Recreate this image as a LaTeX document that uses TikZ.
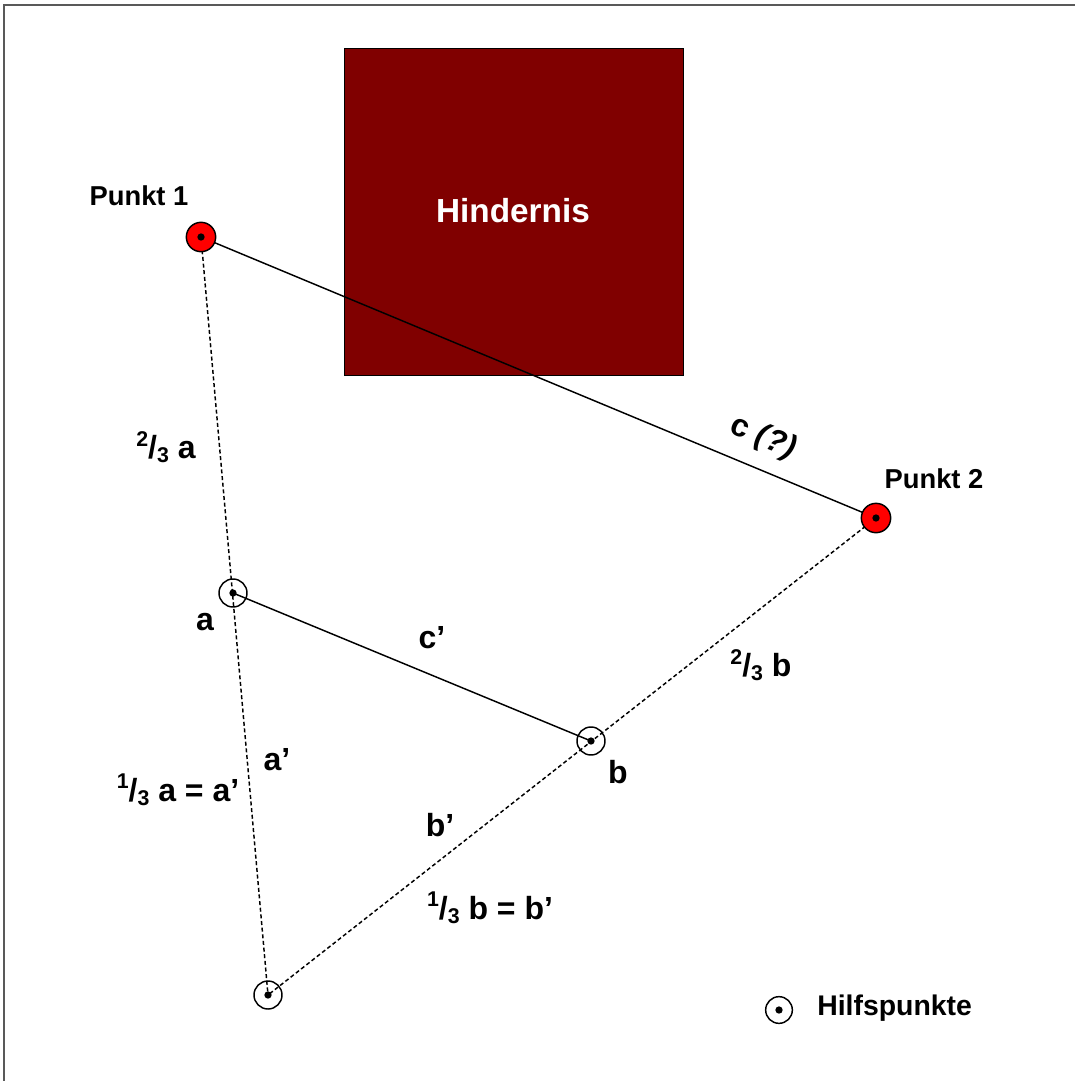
\documentclass[tikz,border=0pt]{standalone}
\usepackage{fontspec}
\setmainfont{Liberation Sans}
\newcommand{\frc}[2]{\raisebox{0.40em}{\fontsize{16}{16}\selectfont #1}/\raisebox{-0.12em}{\fontsize{16}{16}\selectfont #2}}
\begin{document}
\begin{tikzpicture}[x=0.75pt,y=-0.75pt,
  lbl/.style={font=\fontsize{20.5}{24}\selectfont\bfseries, inner sep=0pt},
  biglbl/.style={font=\fontsize{24}{28}\selectfont\bfseries, inner sep=0pt},
  redpt/.style={circle, draw=black, line width=1.1pt, fill=red, minimum size=22pt, inner sep=0pt},
  auxpt/.style={circle, draw=black, line width=1.1pt, minimum size=21pt, inner sep=0pt},
  dotc/.style={circle, fill=black, minimum size=5.5pt, inner sep=0pt},
  dashline/.style={line width=1.1pt, dash pattern=on 3pt off 2pt},
  solidline/.style={line width=1.1pt}]
\useasboundingbox (0,0) rectangle (1075,1081);
\fill[white] (0,0) rectangle (1075,1081);
% frame
\draw[gray!70!black, line width=1.2pt] (4,1081) -- (4,5) -- (1075,5);
% obstacle
\node[draw=black, line width=0.8pt, fill={rgb,255:red,128;green,0;blue,0}, minimum width=254pt, minimum height=245pt, inner sep=0pt, anchor=north west] (H) at (344,48) {};
\node[font=\fontsize{25}{30}\selectfont\bfseries, text=white] (Ht) at (513,211) {Hindernis};
% coordinates
\coordinate (P1) at (201,237);
\coordinate (P2) at (876,518);
\coordinate (A) at (233,593);
\coordinate (B) at (591,741);
\coordinate (C) at (268,995);
% lines
\draw[solidline] (P1) -- (P2);
\draw[dashline] (P1) -- (C);
\draw[dashline] (P2) -- (C);
\draw[solidline] (A) -- (B);
% points
\node[redpt] (p1) at (P1) {};
\node[redpt] (p2) at (P2) {};
\node[auxpt] (pa) at (A) {};
\node[auxpt] (pb) at (B) {};
\node[auxpt] (pc) at (C) {};
\foreach \n in {p1,p2,pa,pb,pc} \node[dotc] at (\n) {};
% labels
\node[lbl] (l1) at (139,196) {Punkt 1};
\node[lbl] (l2) at (934,479) {Punkt 2};
\node[biglbl, rotate=-22.6] (lc) at (763,438) {c \textit{(?)}};
\node[biglbl] (l23a) at (166,447) {\frc{2}{3} a};
\node[biglbl] (la) at (205,622) {a};
\node[biglbl] (lcp) at (432,638) {c’};
\node[biglbl] (l23b) at (761,665) {\frc{2}{3} b};
\node[biglbl] (lap) at (277,760) {a’};
\node[biglbl] (l13a) at (178,790) {\frc{1}{3} a = a’};
\node[biglbl] (lb) at (618,772) {b};
\node[biglbl] (lbp) at (440,825) {b’};
\node[biglbl] (l13b) at (490,908) {\frc{1}{3} b = b’};
% legend
\node[auxpt, minimum size=20pt] (leg) at (779,1010) {};
\node[dotc] at (leg) {};
\node[lbl, font=\fontsize{21.3}{25}\selectfont\bfseries, anchor=west] (legt) at (817,1008) {Hilfspunkte};
\end{tikzpicture}
\end{document}
